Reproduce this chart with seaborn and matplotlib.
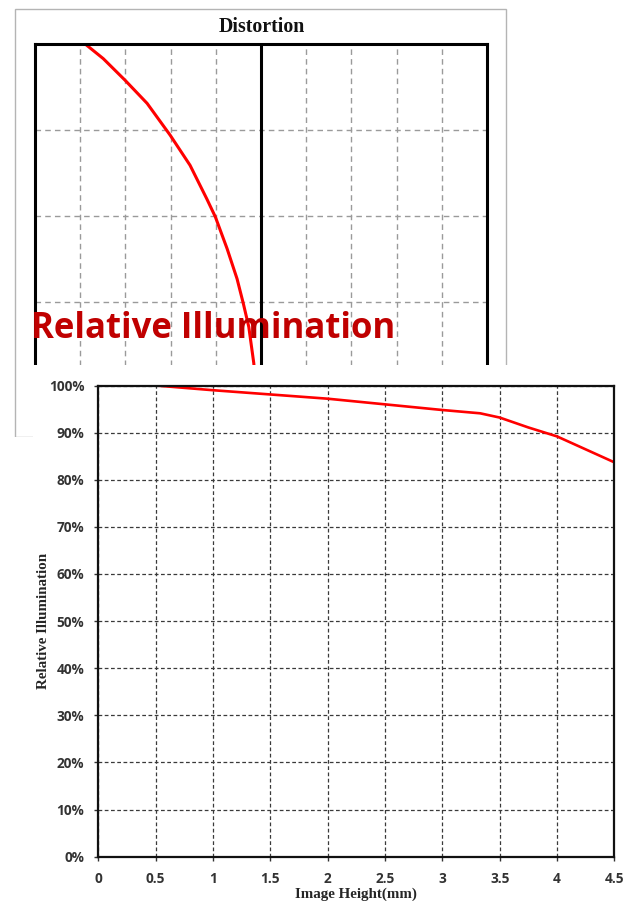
import numpy as np
import pandas as pd
import matplotlib
matplotlib.use('Agg')
import matplotlib.pyplot as plt
from matplotlib.patches import Rectangle, Polygon
from matplotlib.ticker import FuncFormatter
import seaborn as sns

# Distortion curve (field in grid divisions, distortion in grid divisions)
dist_field = [0, 1.0, 2.0, 2.29, 2.71, 2.98, 3.27, 3.62, 3.99, 4.20, 4.59, 4.94, 5.31, 5.58, 5.83, 6.0]
dist_value = [0, -0.03, -0.11, -0.16, -0.27, -0.39, -0.53, -0.75, -1.01, -1.20, -1.57, -2.01, -2.52, -3.01, -3.49, -3.89]

# Relative illumination curve
ri_height = [0, 0.5, 1, 1.5, 2, 2.5, 3, 3.33, 3.5, 3.75, 4, 4.5]
ri_value = [1.0, 1.0, 0.990, 0.981, 0.972, 0.960, 0.948, 0.941, 0.932, 0.911, 0.892, 0.837]

x_ticks = [0, 0.5, 1, 1.5, 2, 2.5, 3, 3.5, 4, 4.5]
x_tick_labels = ['0', '0.5', '1', '1.5', '2', '2.5', '3', '3.5', '4', '4.5']
y_ticks = [0, 0.1, 0.2, 0.3, 0.4, 0.5, 0.6, 0.7, 0.8, 0.9, 1.0]

sns.set_theme(style='white')
plt.rcParams['font.family'] = ['DejaVu Sans']

W, H = 636, 901
fig = plt.figure(figsize=(W / 100, H / 100), dpi=100)
fig.patch.set_facecolor('white')


def fx(px):
    return px / W


def fy(py):
    return 1 - py / H


# ---- Distortion panel (partly covered) ----
fig.patches.append(Rectangle((fx(15), fy(437)), fx(506) - fx(15), fy(9) - fy(437),
                             transform=fig.transFigure, fill=False,
                             edgecolor='#b4b4b4', linewidth=1, zorder=0.5))

ax_d = fig.add_axes([fx(35), fy(560), fx(487) - fx(35), fy(44) - fy(560)], zorder=0)
df_d = pd.DataFrame({'field': dist_field, 'dist': dist_value})
sns.lineplot(data=df_d, x='dist', y='field', sort=False, estimator=None,
             color='#ff0000', linewidth=2.2, ax=ax_d)
ax_d.set_xlim(-5, 5)
ax_d.set_ylim(0, 6)
ax_d.set_xticks([-4, -3, -2, -1, 1, 2, 3, 4])
ax_d.set_yticks([1, 2, 3, 4, 5])
ax_d.grid(True, color='#9a9a9a', linestyle=(0, (4, 3)), linewidth=1)
ax_d.axvline(0, color='black', linewidth=2.2, zorder=1)
ax_d.tick_params(length=0, labelbottom=False, labelleft=False)
ax_d.set_xlabel('')
ax_d.set_ylabel('')
for s in ax_d.spines.values():
    s.set_color('black')
    s.set_linewidth(2.2)

fig.text(fx(262), fy(27), 'Distortion', ha='center', va='center',
         fontsize=14.3, fontweight='bold', family='Liberation Serif', color='#111111')

# ---- white sheet of the second picture ----
fig.patches.append(Polygon([(fx(33), fy(365)), (1, fy(365)), (1, 0), (0, 0),
                            (0, fy(437)), (fx(33), fy(437))],
                           closed=True, transform=fig.transFigure,
                           facecolor='white', edgecolor='none', zorder=1))

fig.text(fx(31), fy(338), 'Relative Illumination', ha='left', va='baseline',
         fontsize=25, fontweight='bold', family='Open Sans', color='#c00000', zorder=3)

# ---- Relative illumination chart ----
ax = fig.add_axes([fx(98.3), fy(856.7), fx(614.3) - fx(98.3), fy(385.5) - fy(856.7)], zorder=2)
df_ri = pd.DataFrame({'height': ri_height, 'ri': ri_value})
sns.lineplot(data=df_ri, x='height', y='ri', color='#ff0000', linewidth=1.9, ax=ax)
ax.set_xlim(0, 4.5)
ax.set_ylim(0, 1.0)
ax.set_xticks(x_ticks)
ax.set_xticklabels(x_tick_labels)
ax.set_yticks(y_ticks)
ax.yaxis.set_major_formatter(FuncFormatter(lambda v, p: f'{v * 100:.0f}%'))
ax.grid(True, color='#3a3a3a', linestyle=(0, (3, 2)), linewidth=0.9)
ax.tick_params(axis='both', direction='out', length=3, width=1, color='#333333',
               labelsize=9.8, labelcolor='#333333', bottom=True, left=True)
ax.tick_params(axis='y', pad=7)
ax.tick_params(axis='x', pad=8)
for lbl in ax.get_xticklabels() + ax.get_yticklabels():
    lbl.set_family('Open Sans')
    lbl.set_fontweight('bold')
for s in ax.spines.values():
    s.set_color('#111111')
    s.set_linewidth(1.6)

ax.set_xlabel('Image Height(mm)', fontsize=10.8, fontweight='bold', family='Liberation Serif')
ax.set_ylabel('Relative Illumination', fontsize=10.8, fontweight='bold', family='Liberation Serif')
ax.xaxis.set_label_coords(0.5, -0.066)
ax.yaxis.set_label_coords(-0.094, 0.5)

plt.savefig('out.png', dpi=100)
plt.close()
